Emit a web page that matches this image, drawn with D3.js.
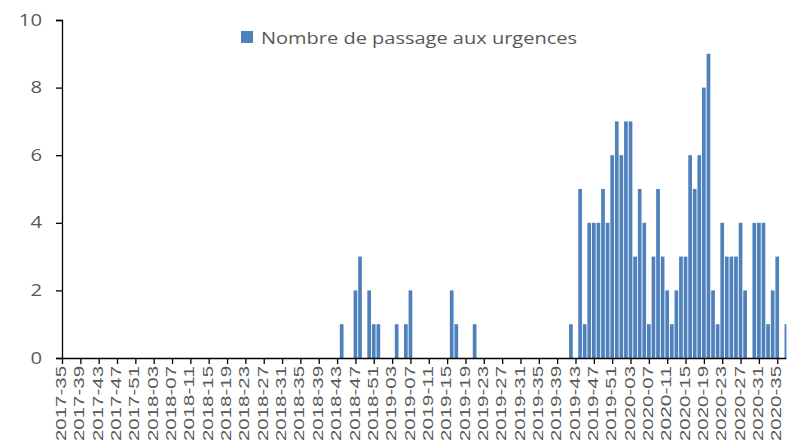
<html>
<head>
<meta charset="utf-8">
<script src="https://d3js.org/d3.v7.min.js"></script>
<style>
  body { margin: 0; background: #fff; }
  text { fill: #595959; }
</style>
</head>
<body>
<svg id="chart" width="791" height="443"></svg>
<script>
  // one category per week, 2017-35 .. 2020-37
  const weeks = [
    "2017-35","2017-36","2017-37","2017-38","2017-39","2017-40","2017-41","2017-42","2017-43","2017-44",
    "2017-45","2017-46","2017-47","2017-48","2017-49","2017-50","2017-51","2017-52",
    "2018-01","2018-02","2018-03","2018-04","2018-05","2018-06","2018-07","2018-08","2018-09","2018-10",
    "2018-11","2018-12","2018-13","2018-14","2018-15","2018-16","2018-17","2018-18","2018-19","2018-20",
    "2018-21","2018-22","2018-23","2018-24","2018-25","2018-26","2018-27","2018-28","2018-29","2018-30",
    "2018-31","2018-32","2018-33","2018-34","2018-35","2018-36","2018-37","2018-38","2018-39","2018-40",
    "2018-41","2018-42","2018-43","2018-44","2018-45","2018-46","2018-47","2018-48","2018-49","2018-50",
    "2018-51","2018-52",
    "2019-01","2019-02","2019-03","2019-04","2019-05","2019-06","2019-07","2019-08","2019-09","2019-10",
    "2019-11","2019-12","2019-13","2019-14","2019-15","2019-16","2019-17","2019-18","2019-19","2019-20",
    "2019-21","2019-22","2019-23","2019-24","2019-25","2019-26","2019-27","2019-28","2019-29","2019-30",
    "2019-31","2019-32","2019-33","2019-34","2019-35","2019-36","2019-37","2019-38","2019-39","2019-40",
    "2019-41","2019-42","2019-43","2019-44","2019-45","2019-46","2019-47","2019-48","2019-49","2019-50",
    "2019-51","2019-52",
    "2020-01","2020-02","2020-03","2020-04","2020-05","2020-06","2020-07","2020-08","2020-09","2020-10",
    "2020-11","2020-12","2020-13","2020-14","2020-15","2020-16","2020-17","2020-18","2020-19","2020-20",
    "2020-21","2020-22","2020-23","2020-24","2020-25","2020-26","2020-27","2020-28","2020-29","2020-30",
    "2020-31","2020-32","2020-33","2020-34","2020-35","2020-36","2020-37"
  ]

  const passages = [
    0,0,0,0,0,0,0,0,0,0, 0,0,0,0,0,0,0,0,
    0,0,0,0,0,0,0,0,0,0, 0,0,0,0,0,0,0,0,0,0,
    0,0,0,0,0,0,0,0,0,0, 0,0,0,0,0,0,0,0,0,0,
    0,0,0,1,0,0,2,3,0,2, 1,1,
    0,0,0,1,0,1,2,0,0,0, 0,0,0,0,0,2,1,0,0,0,
    1,0,0,0,0,0,0,0,0,0, 0,0,0,0,0,0,0,0,0,0,
    0,1,0,5,1,4,4,4,5,4, 6,7,
    6,7,7,3,5,4,1,3,5,3, 2,1,2,3,3,6,5,6,8,9,
    2,1,4,3,3,3,4,2,0,4, 4,4,1,2,3,0,1
  ]

  const tickLabels = [
    "2017-35","2017-39","2017-43","2017-47","2017-51",
    "2018-03","2018-07","2018-11","2018-15","2018-19","2018-23","2018-27","2018-31","2018-35",
    "2018-39","2018-43","2018-47","2018-51",
    "2019-03","2019-07","2019-11","2019-15","2019-19","2019-23","2019-27","2019-31","2019-35",
    "2019-39","2019-43","2019-47","2019-51",
    "2020-03","2020-07","2020-11","2020-15","2020-19","2020-23","2020-27","2020-31","2020-35"
  ]

  const yTicks = [0, 2, 4, 6, 8, 10]
  const seriesName = "Nombre de passage aux urgences"

  const plotL = 62, plotR = 786.4, plotT = 20, plotB = 358
  const svg = d3.select("#chart")

  const xs = d3.scalePoint().domain(weeks).range([plotL, plotR]).padding(0)
  const ys = d3.scaleLinear().domain([0, 10]).range([plotB, plotT])
  const barW = 3.7

  svg.append("clipPath").attr("id", "plot")
    .append("rect").attr("x", plotL).attr("y", 0).attr("width", plotR - plotL).attr("height", plotB)

  svg.append("g")
    .attr("clip-path", "url(#plot)")
    .selectAll("rect")
    .data(weeks)
    .enter()
    .append("rect")
    .attr("x", d => xs(d) - barW / 2)
    .attr("y", (d, i) => ys(passages[i]))
    .attr("width", barW)
    .attr("height", (d, i) => plotB - ys(passages[i]))
    .attr("fill", "#4f81bd")

  // y axis
  const yAxis = svg.append("g")
    .attr("transform", "translate(" + plotL + ",0)")
    .call(d3.axisLeft(ys).tickValues(yTicks).tickSize(6).tickPadding(14))
  yAxis.selectAll("text")
    .style("font-family", "'Open Sans', sans-serif")
    .style("font-size", "16px")
    .attr("lengthAdjust", "spacingAndGlyphs")
    .attr("textLength", d => String(d).length * 11.6)
  yAxis.selectAll("path, line").attr("stroke", "#000").attr("stroke-width", 1.3)

  // x axis
  const xAxis = svg.append("g")
    .attr("transform", "translate(0," + plotB + ")")
    .call(d3.axisBottom(xs).tickValues(tickLabels).tickSize(6).tickSizeOuter(0))
  xAxis.select(".domain").attr("d", "M" + plotL + ",0.5H" + plotR)
  xAxis.selectAll("path, line").attr("stroke", "#000").attr("stroke-width", 1.3)
  xAxis.selectAll("text")
    .attr("transform", "rotate(-90)")
    .attr("x", -8)
    .attr("y", -1.5)
    .attr("dy", "0.35em")
    .style("text-anchor", "end")
    .style("font-family", "'Liberation Sans', Arial, sans-serif")
    .style("font-size", "14.5px")
    .attr("lengthAdjust", "spacingAndGlyphs")
    .attr("textLength", 75)

  // legend
  const legend = svg.append("g")
  legend.append("rect")
    .attr("x", 241).attr("y", 31).attr("width", 12).attr("height", 12)
    .attr("fill", "#4f81bd")
  legend.append("text")
    .attr("x", 261).attr("y", 44)
    .style("font-family", "'Open Sans', sans-serif")
    .style("font-size", "17px")
    .attr("lengthAdjust", "spacingAndGlyphs")
    .attr("textLength", 316)
    .text(seriesName)
</script>
</body>
</html>
